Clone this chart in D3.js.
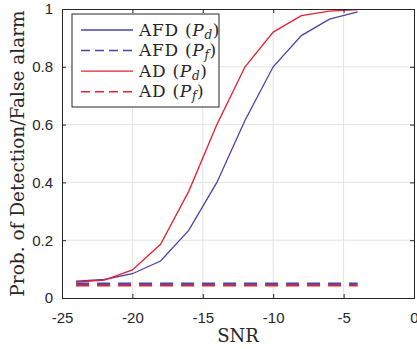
<!DOCTYPE html>
<html>
<head>
<meta charset="utf-8">
<script src="https://cdn.jsdelivr.net/npm/d3@7"></script>
<style>
  body { margin: 0; background: #fff; }
</style>
</head>
<body>
<script>
const snr = [-24, -22, -20, -18, -16, -14, -12, -10, -8, -6, -4];
const afdPd = [0.058, 0.064, 0.084, 0.128, 0.234, 0.40, 0.615, 0.80, 0.908, 0.965, 0.99];
const afdPf = [0.05, 0.05, 0.05, 0.05, 0.05, 0.05, 0.05, 0.05, 0.05, 0.05, 0.05];
const adPd = [0.055, 0.062, 0.097, 0.186, 0.369, 0.60, 0.80, 0.92, 0.977, 0.993, 0.998];
const adPf = [0.044, 0.044, 0.044, 0.044, 0.044, 0.044, 0.044, 0.044, 0.044, 0.044, 0.044];
const xTicks = [-25, -20, -15, -10, -5, 0];
const yTicks = [0, 0.2, 0.4, 0.6, 0.8, 1];

const BLUE = "#4a44a6";
const RED = "#e8202e";
// drawn in this order so the blue dashes sit over the red ones
const series = [
    { name: "AFD", sub: "d", values: afdPd, color: BLUE, dash: null },
    { name: "AFD", sub: "f", values: afdPf, color: BLUE, dash: "13,8" },
    { name: "AD", sub: "d", values: adPd, color: RED, dash: null },
    { name: "AD", sub: "f", values: adPf, color: RED, dash: "13,8" },
];
const drawOrder = [3, 1, 0, 2];

const W = 417, H = 349;
const m = { left: 62, right: 3, top: 9, bottom: 51 };

const svg = d3.select("body").append("svg")
    .attr("width", W).attr("height", H);

const x = d3.scaleLinear().domain([-25, 0]).range([m.left, W - m.right]);
const y = d3.scaleLinear().domain([0, 1]).range([H - m.bottom, m.top]);

// grid
svg.append("g").selectAll("line").data(xTicks.slice(1, -1)).join("line")
    .attr("x1", d => x(d)).attr("x2", d => x(d))
    .attr("y1", y(0)).attr("y2", y(1))
    .attr("stroke", "#e3e3e3").attr("stroke-width", 1);
svg.append("g").selectAll("line").data(yTicks.slice(1, -1)).join("line")
    .attr("x1", x(-25)).attr("x2", x(0))
    .attr("y1", d => y(d)).attr("y2", d => y(d))
    .attr("stroke", "#e3e3e3").attr("stroke-width", 1);

// lines
const line = d3.line().x((d, i) => x(snr[i])).y(d => y(d));
drawOrder.forEach(k => {
    const s = series[k];
    svg.append("path")
        .attr("d", line(s.values))
        .attr("fill", "none")
        .attr("stroke", s.color)
        .attr("stroke-width", s.dash ? 2.2 : 1.3)
        .attr("stroke-dasharray", s.dash);
});

// axes
const axisColor = "#262626";
const tickFont = "'Liberation Sans', Arial, sans-serif";
const xAxis = svg.append("g").attr("transform", `translate(0,${y(0)})`)
    .call(d3.axisBottom(x).tickValues(xTicks).tickSize(-4).tickPadding(14).tickFormat(d => String(d)));
const xTop = svg.append("g").attr("transform", `translate(0,${y(1)})`)
    .call(d3.axisTop(x).tickValues(xTicks).tickSize(-4).tickFormat(""));
const yAxis = svg.append("g").attr("transform", `translate(${x(-25)},0)`)
    .call(d3.axisLeft(y).tickValues(yTicks).tickSize(-4).tickPadding(9).tickFormat(d => String(d)));
const yRight = svg.append("g").attr("transform", `translate(${x(0)},0)`)
    .call(d3.axisRight(y).tickValues(yTicks).tickSize(-4).tickFormat(""));
[xAxis, xTop, yAxis, yRight].forEach(g => {
    g.select(".domain").attr("stroke", axisColor).attr("stroke-width", 1);
    g.selectAll(".tick line").attr("stroke", axisColor);
    g.selectAll("text").attr("fill", axisColor)
        .style("font-family", tickFont).style("font-size", "15px");
});

// axis labels
const serif = "'DejaVu Serif', serif";
svg.append("text")
    .attr("x", (x(-25) + x(0)) / 2).attr("y", 342)
    .attr("text-anchor", "middle")
    .style("font-family", serif).style("font-size", "18px")
    .attr("fill", axisColor)
    .text("SNR");
svg.append("text")
    .attr("transform", `translate(24,${(y(0) + y(1)) / 2}) rotate(-90)`)
    .attr("text-anchor", "middle")
    .style("font-family", serif).style("font-size", "18.5px")
    .attr("fill", axisColor)
    .text("Prob. of Detection/False alarm");

// legend
const lg = svg.append("g");
lg.append("rect")
    .attr("x", 72).attr("y", 14).attr("width", 147).attr("height", 93)
    .attr("fill", "#fff").attr("stroke", axisColor).attr("stroke-width", 1);
series.forEach((s, i) => {
    const ly = 30 + i * 20.6;
    lg.append("line")
        .attr("x1", 81).attr("x2", 133).attr("y1", ly).attr("y2", ly)
        .attr("stroke", s.color)
        .attr("stroke-width", s.dash ? 1.5 : 1.3)
        .attr("stroke-dasharray", s.dash ? "9,5" : null);
    const t = lg.append("text")
        .attr("x", 139).attr("y", ly + 5.5)
        .style("font-family", serif).style("font-size", "17px")
        .style("letter-spacing", "0.7px")
        .attr("fill", axisColor);
    t.append("tspan").text(s.name + " (");
    t.append("tspan").style("font-style", "italic").text("P");
    t.append("tspan").style("font-style", "italic").style("font-size", "12px")
        .attr("dy", 3).text(s.sub);
    t.append("tspan").attr("dy", -3).text(")");
});
</script>
</body>
</html>
